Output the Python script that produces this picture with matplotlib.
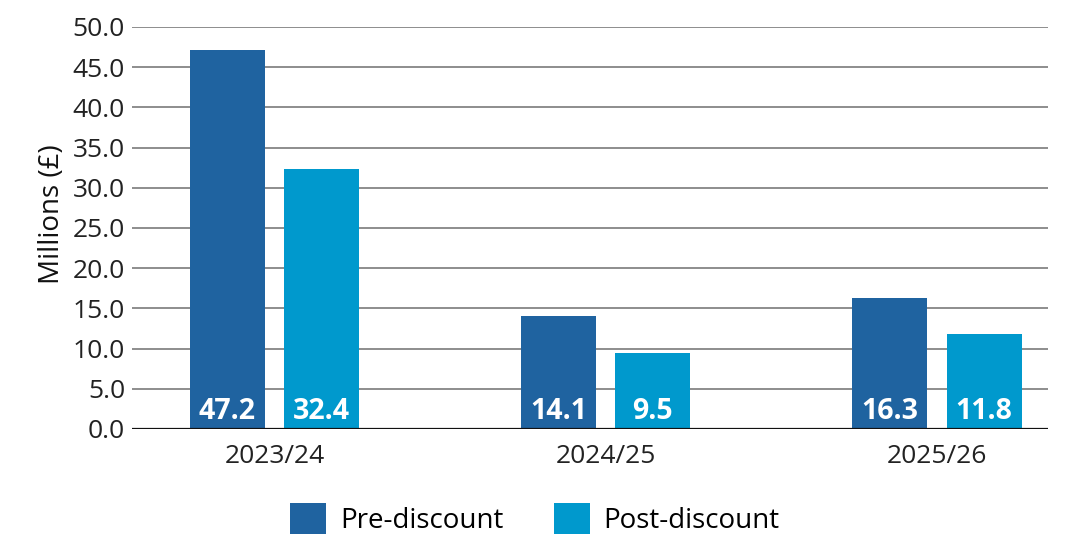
import matplotlib
matplotlib.use("Agg")
import matplotlib.pyplot as plt
from matplotlib.patches import Patch
import numpy as np

categories = ["2023/24", "2024/25", "2025/26"]
pre_discount = [47.2, 14.1, 16.3]
post_discount = [32.4, 9.5, 11.8]
series_names = ["Pre-discount", "Post-discount"]
yticks = [0, 5, 10, 15, 20, 25, 30, 35, 40, 45, 50]

C_PRE = "#1f63a0"
C_POST = "#0099cd"

plt.rcParams['font.family'] = ['Open Sans', 'DejaVu Sans']

fig = plt.figure(figsize=(10.68, 5.53), dpi=100)
ax = fig.add_axes([132/1068, 1 - 429/553, (1048-132)/1068, (429-27)/553])

x = np.arange(len(categories))
w = 0.2264
off = 0.142
b1 = ax.bar(x - off, pre_discount, w, color=C_PRE, zorder=3)
b2 = ax.bar(x + off, post_discount, w, color=C_POST, zorder=3)

for bars, vals in ((b1, pre_discount), (b2, post_discount)):
    for rect, v in zip(bars, vals):
        ax.annotate(f"{v:.1f}", xy=(rect.get_x() + rect.get_width()/2, 0),
                    xytext=(0, 7.5), textcoords="offset points",
                    ha="center", va="baseline", color="white",
                    fontsize=20.5, fontweight="bold", zorder=4)

ax.set_xlim(-0.43, 2.335)
ax.set_ylim(0, 50)
ax.set_yticks(yticks)
ax.set_yticklabels([f"{t:.1f}" for t in yticks])
ax.set_xticks(x)
ax.set_xticklabels(categories)
ax.tick_params(axis="both", length=0, labelsize=19, colors="#222222")
ax.tick_params(axis="x", pad=11)
ax.tick_params(axis="y", pad=5)

for t in yticks[1:]:
    ax.axhline(t, color="#858585", lw=1.3, zorder=1)
ax.axhline(0, color="#111111", lw=1.6, zorder=5)

for s in ax.spines.values():
    s.set_visible(False)

ax.set_ylabel("Millions (£)", fontsize=20, color="#111111")
ax.yaxis.set_label_coords(-66/916, (429-214)/402)

handles = [Patch(facecolor=C_PRE), Patch(facecolor=C_POST)]
fig.legend(handles, series_names, loc="center", bbox_to_anchor=(535/1068, 34/553),
           ncol=2, frameon=False, fontsize=20, handlelength=1.3, handleheight=1.3,
           handletextpad=0.5, columnspacing=1.8)

fig.savefig("out.png", dpi=100)
